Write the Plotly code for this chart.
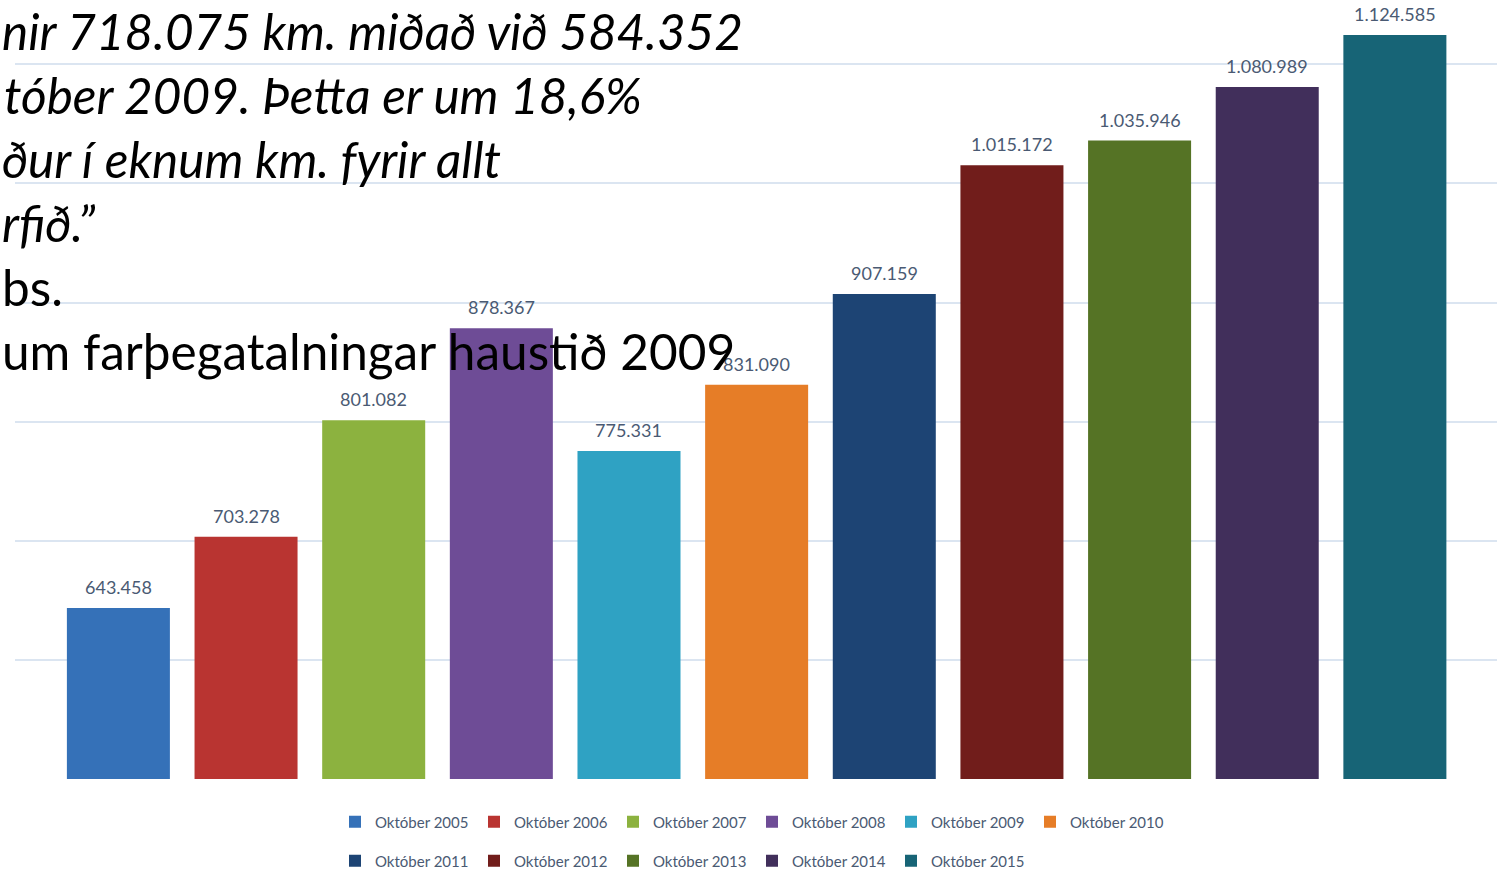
import plotly.graph_objects as go

names = ["Október 2005", "Október 2006", "Október 2007", "Október 2008", "Október 2009",
         "Október 2010", "Október 2011", "Október 2012", "Október 2013", "Október 2014",
         "Október 2015"]
values = [643458, 703278, 801082, 878367, 775331, 831090, 907159, 1015172, 1035946,
          1080989, 1124585]
colors = ["#3571b8", "#b93431", "#8cb23f", "#6e4c96", "#2fa2c3", "#e67d27",
          "#1d4474", "#711d1b", "#557325", "#412f5b", "#176476"]

text_lines = [
    ("<i>nir 718.075 km. miðað við 584.352</i>", 0),
    ("<i>tóber 2009. Þetta er um 18,6%</i>", 2),
    ("<i>ður í eknum km. fyrir allt</i>", 0),
    ("<i>rfið.”</i>", 0),
    ("bs.", 0),
    ("um farþegatalningar haustið 2009", 0),
]

W, H = 1497, 872
ML, MR, MT, MB = 15, 0, 0, 93
PW, PH = W - ML - MR, H - MT - MB

fig = go.Figure()
for i, (n, v, c) in enumerate(zip(names, values, colors)):
    fig.add_trace(go.Bar(
        x=[n], y=[v], name=n,
        marker=dict(color=c, line=dict(width=0)),
        hoverinfo="x+y",
        legend="legend" if i < 6 else "legend2",
    ))

annotations = []
# value labels above bars, placed on the data axes
for n, v in zip(names, values):
    annotations.append(dict(
        text=f"{v:,}".replace(",", "."), x=n, y=v, xref="x", yref="y",
        xanchor="center", yanchor="bottom", yshift=8, showarrow=False,
        font=dict(family="Lato", size=18, color="#4a5a73"),
    ))

for k, (t, dx) in enumerate(text_lines):
    baseline = 48 + 64 * k
    cy = baseline - 17
    annotations.append(dict(
        text=t, xref="paper", yref="paper",
        x=(dx - ML) / PW, y=(PH - cy) / PH,
        xanchor="left", yanchor="middle", showarrow=False,
        font=dict(family="Lato", size=49.5, color="#000000"),
    ))

legend_common = dict(
    orientation="h", xanchor="left", yanchor="middle",
    font=dict(family="Lato", size=15, color="#4a5a73"),
    bgcolor="rgba(0,0,0,0)", entrywidth=94, traceorder="normal",
)

fig.update_layout(
    width=W, height=H,
    margin=dict(l=ML, r=MR, t=MT, b=MB, autoexpand=False),
    paper_bgcolor="white", plot_bgcolor="white",
    barmode="overlay", bargap=0.193,
    separators=",.",
    showlegend=True,
    xaxis=dict(range=[-0.81, 10.8], showticklabels=False, showgrid=False,
               zeroline=False, showline=False, ticks=""),
    yaxis=dict(range=[500000, 1154000], dtick=100000, showticklabels=False,
               showgrid=True, gridcolor="#dbe5f1", gridwidth=1.5,
               zeroline=False, showline=False, ticks=""),
    legend=dict(x=(335 - ML) / PW, y=(PH - 822) / PH, **legend_common),
    legend2=dict(x=(335 - ML) / PW, y=(PH - 861) / PH, **legend_common),
    annotations=annotations,
    font=dict(family="Lato"),
)

fig.write_html("out.html",
               config={"displayModeBar": False},
               post_script="document.body.style.margin='0px';document.body.style.overflow='hidden';")
